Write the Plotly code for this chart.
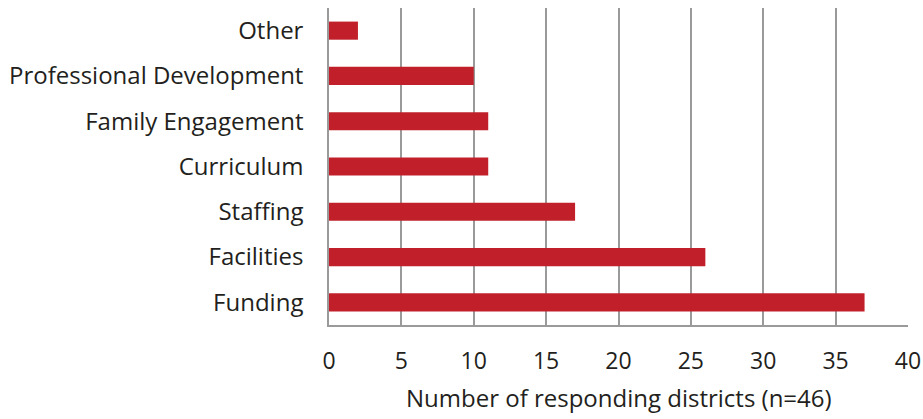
import plotly.graph_objects as go

categories = ["Funding", "Facilities", "Staffing", "Curriculum", "Family Engagement",
              "Professional Development", "Other"]
values = [37, 26, 17, 11, 11, 10, 2]
x_ticks = [0, 5, 10, 15, 20, 25, 30, 35, 40]
x_title = "Number of responding districts (n=46)"

fig = go.Figure(go.Bar(
    y=categories, x=values, orientation="h",
    marker=dict(color="#C1202A", line=dict(width=0)),
    width=0.4,
))

fig.update_layout(
    width=923, height=419,
    margin=dict(l=329, r=15, t=8, b=94),
    paper_bgcolor="white", plot_bgcolor="white",
    font=dict(family="Open Sans, sans-serif", size=24, color="#231F20"),
    showlegend=False,
    bargap=0.6,
)
fig.add_annotation(
    text=x_title, xref="paper", yref="paper", x=0.5, y=0,
    xanchor="center", yanchor="middle", yshift=-72, showarrow=False,
    font=dict(size=24, color="#231F20"),
)
fig.update_xaxes(
    range=[0, 40], tickvals=x_ticks, ticktext=[str(t) for t in x_ticks],
    showgrid=True, gridcolor="#9A9A9A", gridwidth=1.5,
    showline=True, linecolor="#9A9A9A", linewidth=1.5,
    ticks="", ticklen=0, automargin=False, ticklabelstandoff=15,
    tickfont=dict(size=23), zeroline=False,
)
fig.update_yaxes(
    showline=True, linecolor="#9A9A9A", linewidth=1.5,
    showgrid=False, ticks="", automargin=False, ticklabelstandoff=19,
    tickfont=dict(size=24), range=[-0.5, 6.5],
)

# remove the browser's default page margin so the figure fills the window exactly
fig.write_html("out.html", config={"displayModeBar": False},
               post_script="document.body.style.margin='0';document.body.style.overflow='hidden';")
